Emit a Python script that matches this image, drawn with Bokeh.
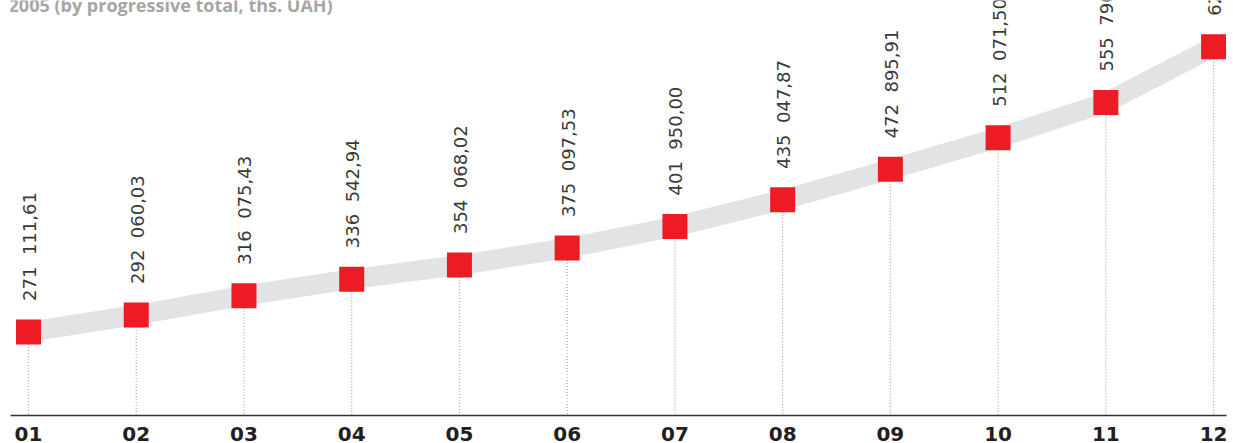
from bokeh.plotting import figure
from bokeh.models import Range1d, FixedTicker, Label, ColumnDataSource
from bokeh.embed import file_html
from bokeh.resources import INLINE
from bokeh.core.properties import value
import math

months = [1, 2, 3, 4, 5, 6, 7, 8, 9, 10, 11, 12]
month_labels = ["01", "02", "03", "04", "05", "06", "07", "08", "09", "10", "11", "12"]
totals = [271111.61, 292060.03, 316075.43, 336542.94, 354068.02, 375097.53,
          401950.00, 435047.87, 472895.91, 512071.50, 555790.00, 625000.00]
NB = "\u00a0\u00a0"
value_labels = ["271" + NB + "111,61", "292" + NB + "060,03", "316" + NB + "075,43",
                "336" + NB + "542,94", "354" + NB + "068,02", "375" + NB + "097,53",
                "401" + NB + "950,00", "435" + NB + "047,87", "472" + NB + "895,91",
                "512" + NB + "071,50", "555" + NB + "790,00", "625" + NB + "000,00"]
title_text = "2005 (by progressive total, ths. UAH)"

W, H = 1233, 443
x_lo, x_hi = 0.8329, 12.120
y_lo, y_hi = 167300, 682500

p = figure(width=W, height=H, output_backend="svg", toolbar_location=None,
           x_range=Range1d(x_lo, x_hi), y_range=Range1d(y_lo, y_hi),
           min_border_left=10, min_border_right=7, min_border_top=0, min_border_bottom=0)
p.outline_line_color = None
p.background_fill_color = "white"
p.border_fill_color = "white"
p.grid.visible = False
p.yaxis.visible = False

xa = p.xaxis[0]
xa.ticker = FixedTicker(ticks=months)
xa.major_label_overrides = {m: l for m, l in zip(months, month_labels)}
xa.major_tick_out = 0
xa.major_tick_in = 0
xa.minor_tick_out = 0
xa.minor_tick_in = 0
xa.axis_line_color = "#333333"
xa.axis_line_width = 1.5
xa.major_label_text_font = "DejaVu Sans"
xa.major_label_text_font_style = "bold"
xa.major_label_text_font_size = "20px"
xa.major_label_text_color = "#231f20"
xa.major_label_standoff = 11

src = ColumnDataSource(dict(x=months, y=totals, lab=value_labels, y0=[y_lo] * len(months)))

# dotted drop lines
p.segment(x0="x", y0="y", x1="x", y1="y0", source=src, line_color="#a8a8a8",
          line_width=1.2, line_dash="1 2")
# grey band
p.line(x="x", y="y", source=src, line_color="#e2e3e4", line_width=20)
# red squares
p.scatter(x="x", y="y", source=src, marker="square", size=25, fill_color="#ed1c24",
          line_color=None)
# rotated value labels
p.text(x="x", y="y", text="lab", source=src, angle=math.pi / 2, text_align="left",
       text_baseline="middle", y_offset=-31, x_offset=1,
       text_font=value("DejaVu Sans"), text_font_size="18px", text_color="#3a3a3a")

p.add_layout(Label(x=0.815, y=677500, text=title_text,
                   text_font="Open Sans", text_font_style="bold", text_font_size="18px",
                   text_color="#a6a6a6", text_baseline="alphabetic"))

open("out.html", "w").write(file_html(p, INLINE))
